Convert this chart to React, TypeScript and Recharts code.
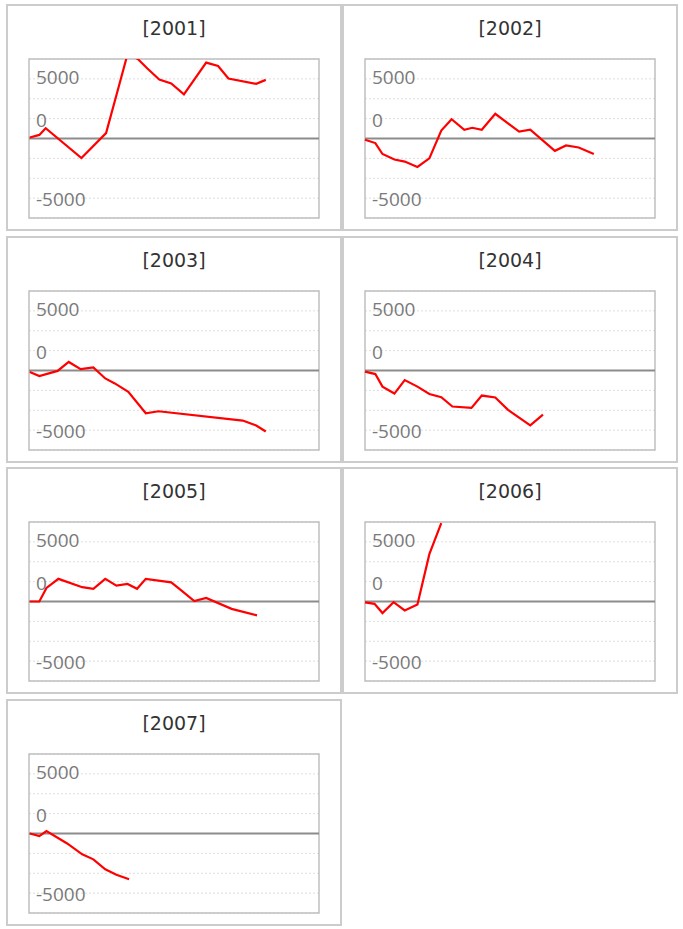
import React from 'react';
import { LineChart, Line, XAxis, YAxis, CartesianGrid, ReferenceLine, ReferenceArea } from 'recharts';

const years = ['2001', '2002', '2003', '2004', '2005', '2006', '2007'];

const days2001 = [1, 13, 21, 66, 97, 110, 124, 137, 149, 164, 179, 195, 223, 238, 251, 286, 298];
const values2001 = [125, 450, 1300, -2450, 675, 5450, 10600, 10000, 8800, 7425, 6925, 5550, 9550, 9125, 7550, 6875, 7375];

const days2002 = [0, 13, 22, 37, 50, 66, 81, 96, 109, 125, 135, 147, 164, 194, 208, 239, 253, 269, 288];
const values2002 = [-150, -575, -1950, -2650, -2900, -3575, -2500, 1000, 2425, 1100, 1350, 1100, 3100, 875, 1100, -1550, -875, -1125, -1950];

const days2003 = [1, 13, 36, 50, 65, 81, 96, 108, 125, 147, 163, 269, 286, 298];
const values2003 = [-175, -700, -50, 1075, 175, 375, -1000, -1625, -2675, -5375, -5125, -6300, -6925, -7675];

const days2004 = [0, 13, 22, 37, 50, 66, 81, 96, 110, 134, 147, 164, 180, 208, 224];
const values2004 = [-150, -450, -2025, -2900, -1200, -2025, -2950, -3350, -4525, -4700, -3150, -3400, -4950, -6900, -5550];

const days2005 = [1, 13, 22, 37, 67, 81, 96, 110, 124, 136, 147, 179, 192, 208, 223, 255, 287];
const values2005 = [0, 0, 1700, 2850, 1800, 1600, 2850, 2000, 2200, 1600, 2850, 2400, 1375, 50, 450, -925, -1750];

const days2006 = [0, 12, 22, 36, 50, 66, 81, 96];
const values2006 = [-100, -300, -1450, -75, -1125, -375, 5950, 9850];

const days2007 = [1, 13, 22, 48, 67, 81, 96, 110, 126];
const values2007 = [0, -325, 300, -1250, -2625, -3250, -4500, -5200, -5750];

const allDays = [days2001, days2002, days2003, days2004, days2005, days2006, days2007];
const allValues = [values2001, values2002, values2003, values2004, values2005, values2006, values2007];

const yTicks = [-7500, -5000, -2500, 0, 2500, 5000, 7500];
const labelTicks = [7500, 2500, -7500];
const labelTexts = ['5000', '0', '-5000'];
const labelDy = [5.5, 8.5, 8];

const PANEL_W = 336;
const PANEL_H = 227;
const PLOT_LEFT = 23;

function renderYTick(props: any) {
  const { y, payload } = props;
  const idx = labelTicks.indexOf(Number(payload && payload.value));
  if (idx < 0) return <g />;
  return (
    <text
      x={PLOT_LEFT + 7}
      y={y + labelDy[idx]}
      textAnchor="start"
      fill="#7a7a7a"
      fontFamily='"Open Sans", "Noto Sans", sans-serif'
      fontSize={19}
    >
      {labelTexts[idx]}
    </text>
  );
}

function Panel({ title, days, values, left, top }: { title: string; days: number[]; values: number[]; left: number; top: number }) {
  const data = days.map((d, i) => ({ day: d, value: values[i] }));
  return (
    <div
      style={{
        position: 'absolute',
        left,
        top,
        width: PANEL_W,
        height: PANEL_H,
        boxSizing: 'border-box',
        border: '2px solid #cccccc',
        background: '#fff',
      }}
    >
      <div
        style={{
          position: 'absolute',
          left: -2,
          top: 11,
          width: PANEL_W,
          textAlign: 'center',
          fontFamily: '"DejaVu Sans", sans-serif',
          fontSize: 19,
          color: '#333',
          lineHeight: 'normal',
        }}
      >
        [{title}]
      </div>
      <div style={{ position: 'absolute', left: -2, top: -2 }}>
        <LineChart width={PANEL_W} height={PANEL_H} data={data} margin={{ top: 55, right: 23, bottom: 13, left: PLOT_LEFT - 1 }}>
          <XAxis type="number" dataKey="day" domain={[0, 365]} hide />
          <YAxis
            type="number"
            domain={[-10000, 10000]}
            allowDataOverflow
            ticks={yTicks}
            interval={0}
            width={1}
            axisLine={false}
            tickLine={false}
            tickSize={0}
            tickMargin={0}
            tick={renderYTick}
          />
          <CartesianGrid vertical={false} stroke="#dddddd" strokeDasharray="2 2" />
          <ReferenceArea x1={0} x2={365} y1={-10000} y2={10000} fill="none" stroke="#c0c0c0" strokeWidth={1.5} fillOpacity={0} />
          <ReferenceLine y={0} stroke="#8c8c8c" strokeWidth={2} />
          <Line dataKey="value" type="linear" stroke="#ff0000" strokeWidth={2.2} dot={false} activeDot={false} isAnimationActive={false} />
        </LineChart>
      </div>
    </div>
  );
}

export default function App() {
  return (
    <div style={{ position: 'absolute', left: 0, top: 0, width: 683, height: 929, background: '#fff' }}>
      {years.map((y, i) => (
        <Panel
          key={y}
          title={y}
          days={allDays[i]}
          values={allValues[i]}
          left={i % 2 === 0 ? 6 : 342}
          top={4 + Math.floor(i / 2) * 231.7}
        />
      ))}
    </div>
  );
}
